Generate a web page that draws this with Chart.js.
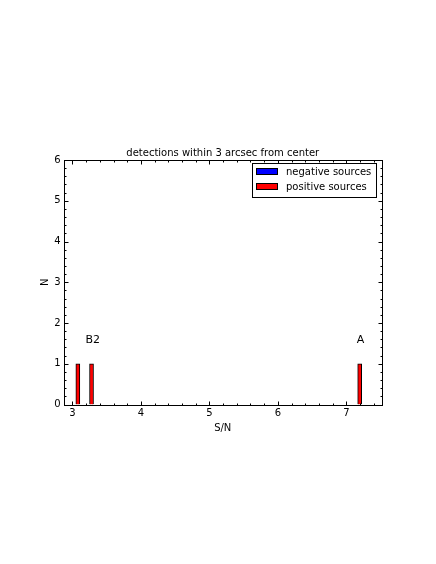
<!DOCTYPE html>
<html><head><meta charset="utf-8">
<script src="https://cdn.jsdelivr.net/npm/chart.js@4/dist/chart.umd.min.js"></script>
<style>html,body{margin:0;padding:0;background:#fff}canvas{display:block}</style>
</head><body><canvas id="c" width="436" height="564"></canvas>
<script>
const chartTitle = 'detections within 3 arcsec from center';
const xAxisLabel = 'S/N';
const yAxisLabel = 'N';
const seriesNames = ['negative sources', 'positive sources'];
const seriesColors = ['#0000ff', '#ff0000'];
const negativeBinCenters = [];
const negativeCounts = [];
const positiveBinCenters = [3.05, 3.25, 7.165];
const positiveCounts = [1, 1, 1];
const xTicks = [3, 4, 5, 6, 7];
const yTicks = [0, 1, 2, 3, 4, 5, 6];
const xRange = [2.87, 7.52];
const yRange = [0, 6];
const annotationLabels = ['B2', 'A'];
const annotationX = [3.19, 7.15];
const annotationY = [1.5, 1.5];

const FONT = 'DejaVu Sans';

function pts(xs, ys) { return xs.map((x, i) => ({ x: x, y: ys[i] })); }

const mplPlugin = {
  id: 'mpl',
  afterDraw(chart) {
    const ctx = chart.ctx;
    const a = chart.chartArea;
    const xs = chart.scales.x, ys = chart.scales.y;
    ctx.save();
    ctx.strokeStyle = '#000';
    ctx.lineWidth = 1;
    const L = Math.round(a.left) + 0.5, R = Math.round(a.right) + 0.5;
    const T = Math.round(a.top) + 0.5, B = Math.round(a.bottom) + 0.5;
    ctx.strokeRect(L, T, R - L, B - T);
    ctx.beginPath();
    const drawX = (v, len) => {
      const p = Math.round(xs.getPixelForValue(v)) + 0.5;
      ctx.moveTo(p, B); ctx.lineTo(p, B - len);
      ctx.moveTo(p, T); ctx.lineTo(p, T + len);
    };
    const drawY = (v, len) => {
      const p = Math.round(ys.getPixelForValue(v)) + 0.5;
      ctx.moveTo(L, p); ctx.lineTo(L + len, p);
      ctx.moveTo(R, p); ctx.lineTo(R - len, p);
    };
    xTicks.forEach(v => drawX(v, 4));
    for (let k = Math.ceil(xRange[0] * 5); k <= Math.floor(xRange[1] * 5); k++) {
      if (k % 5 !== 0) drawX(k / 5, 2);
    }
    yTicks.forEach(v => drawY(v, 4));
    for (let k = Math.ceil(yRange[0] * 5); k <= Math.floor(yRange[1] * 5); k++) {
      if (k % 5 !== 0) drawY(k / 5, 2);
    }
    ctx.stroke();
    ctx.fillStyle = '#000';
    ctx.font = '10px "' + FONT + '"';
    ctx.textAlign = 'center';
    ctx.textBaseline = 'alphabetic';
    ctx.fillText(chartTitle, (a.left + a.right) / 2, a.top - 4);
    ctx.textBaseline = 'middle';
    ctx.fillText(xAxisLabel, (a.left + a.right) / 2, a.bottom + 24);
    ctx.save();
    ctx.translate(a.left - 18.5, (a.top + a.bottom) / 2);
    ctx.rotate(-Math.PI / 2);
    ctx.fillText(yAxisLabel, 0, 0);
    ctx.restore();
    ctx.font = '11px "' + FONT + '"';
    ctx.textAlign = 'left';
    ctx.textBaseline = 'alphabetic';
    annotationLabels.forEach((t, i) => {
      ctx.fillText(t, xs.getPixelForValue(annotationX[i]), ys.getPixelForValue(annotationY[i]));
    });
    const lx = 252.5, ly = 163.5, lw = 124, lh = 34;
    ctx.fillStyle = '#fff';
    ctx.fillRect(lx, ly, lw, lh);
    ctx.strokeRect(lx, ly, lw, lh);
    ctx.font = '10px "' + FONT + '"';
    ctx.textBaseline = 'middle';
    seriesNames.forEach((n, i) => {
      const ry = 168.5 + i * 15;
      ctx.fillStyle = seriesColors[i];
      ctx.fillRect(256.5, ry, 21, 6);
      ctx.strokeStyle = '#000';
      ctx.strokeRect(256.5, ry, 21, 6);
      ctx.fillStyle = '#000';
      ctx.fillText(n, 286, ry + 3.5);
    });
    ctx.restore();
  }
};

new Chart(document.getElementById('c'), {
  type: 'bar',
  data: {
    datasets: [
      { label: seriesNames[0], data: pts(negativeBinCenters, negativeCounts), backgroundColor: seriesColors[0], borderColor: '#000', borderWidth: 1, barThickness: 4 },
      { label: seriesNames[1], data: pts(positiveBinCenters, positiveCounts), backgroundColor: seriesColors[1], borderColor: '#000', borderWidth: 1, barThickness: 4 }
    ]
  },
  options: {
    responsive: false,
    devicePixelRatio: 1,
    animation: false,
    layout: { padding: { left: 20, top: 160, right: 54, bottom: 124.5 } },
    plugins: { legend: { display: false }, title: { display: false }, tooltip: { enabled: false } },
    scales: {
      x: {
        type: 'linear', min: xRange[0], max: xRange[1], offset: false, stacked: false,
        grid: { display: false, drawTicks: false }, border: { display: false },
        afterBuildTicks: s => { s.ticks = xTicks.map(v => ({ value: v })); },
        afterFit: s => { s.height = 35; },
        ticks: { padding: 3, maxRotation: 0, color: '#000', font: { family: FONT, size: 10 } }
      },
      y: {
        type: 'linear', min: yRange[0], max: yRange[1],
        grid: { display: false, drawTicks: false }, border: { display: false },
        afterBuildTicks: s => { s.ticks = yTicks.map(v => ({ value: v })); },
        afterFit: s => { s.width = 43.5; },
        ticks: { padding: 3, color: '#000', font: { family: FONT, size: 10 } }
      }
    }
  },
  plugins: [mplPlugin]
});
</script>
</body></html>
